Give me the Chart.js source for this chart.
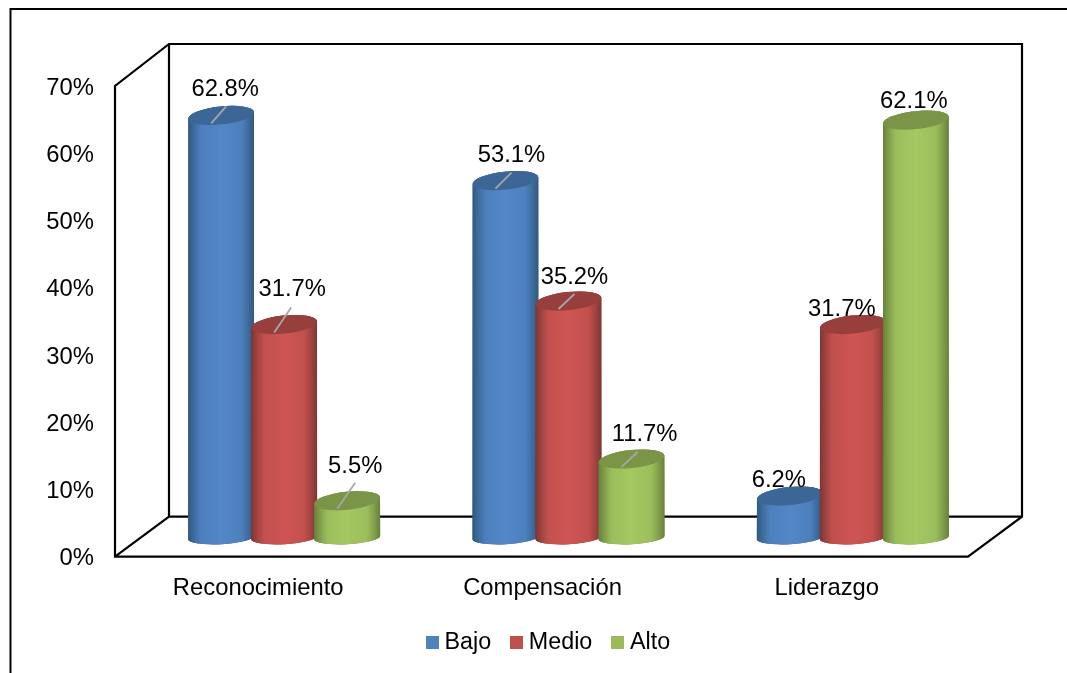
<!DOCTYPE html>
<html>
<head>
<meta charset="utf-8">
<title>Niveles por dimensión</title>
<script src="https://cdn.jsdelivr.net/npm/chart.js@4"></script>
<style>
  html, body { margin: 0; padding: 0; background: #fff; overflow: hidden; }
  canvas { display: block; }
</style>
</head>
<body>
<canvas id="grafico" width="1067" height="673"></canvas>
<script>
const categorias = ['Reconocimiento', 'Compensación', 'Liderazgo'];
const series = ['Bajo', 'Medio', 'Alto'];
const bajo = [62.8, 53.1, 6.2];
const medio = [31.7, 35.2, 31.7];
const alto = [5.5, 11.7, 62.1];
const colores = ['#4f81bd', '#c0504d', '#9bbb59'];

// degradado de cada cilindro: borde, centro, tapa
const tonos = [
  ['#30587f', '#5287c8', '#3c6696'],
  ['#7c3634', '#cf5553', '#973f3d'],
  ['#66803a', '#a5c862', '#7a9448']
];

// desplazamiento de cada etiqueta respecto a la tapa [serie][categoria]
const etiquetaPos = [
  [[4, -26], [6, -25], [-11, -16]],
  [[8, -35], [6, -24], [-11, -15]],
  [[8, -34], [13, -25], [-2, -19]]
];
// lineas guia (dx, dy); null = sin linea
const guias = [
  [[15, -17], [16, -16], null],
  [[17, -25], [16, -15], null],
  [[18, -26], [16, -15], null]
];

const fuente = '"Liberation Sans", Arial, sans-serif';
const tamFuente = 23.8;
const fondoX = 54, fondoY = 42;     // profundidad de la caja 3D
const barraX = 27, barraY = 19;     // los cilindros van a media profundidad
const radio = 33, radioY = 9, giro = -6 * Math.PI / 180;
const radioBase = 6.5, giroBase = -3 * Math.PI / 180;
const leyendaX = 67;                // la leyenda no va centrada en el area

function muestra(color) {
  const c = document.createElement('canvas');
  c.width = 13;
  c.height = 13;
  const g = c.getContext('2d');
  g.fillStyle = color;
  g.fillRect(0, 0, 13, 13);
  return c;
}

function cilindro(ctx, x, yTapa, yBase, tono) {
  const grad = ctx.createLinearGradient(x - radio, 0, x + radio, 0);
  grad.addColorStop(0, tono[0]);
  grad.addColorStop(0.2, tono[1] + 'd8');
  grad.addColorStop(0.5, tono[1]);
  grad.addColorStop(0.8, tono[1] + 'd8');
  grad.addColorStop(1, tono[0]);

  const cuerpo = new Path2D();
  cuerpo.ellipse(x, yBase, radio, radioBase, giroBase, 0, Math.PI);
  cuerpo.ellipse(x, yTapa, radio, radioY, giro, Math.PI, 2 * Math.PI);
  cuerpo.closePath();
  ctx.fillStyle = tono[0];
  ctx.fill(cuerpo);
  ctx.fillStyle = grad;
  ctx.fill(cuerpo);

  ctx.beginPath();
  ctx.ellipse(x, yTapa, radio, radioY, giro, 0, 2 * Math.PI);
  ctx.fillStyle = tono[2];
  ctx.fill();
}

const caja3d = {
  id: 'caja3d',
  afterLayout(chart) {
    chart.legend.left += leyendaX;
    chart.legend.right += leyendaX;
  },
  beforeDatasetsDraw(chart) {
    const { ctx, chartArea: a } = chart;
    ctx.save();

    // marco exterior
    ctx.strokeStyle = '#000';
    ctx.lineWidth = 2;
    ctx.beginPath();
    ctx.moveTo(10.5, 673);
    ctx.lineTo(10.5, 9);
    ctx.lineTo(1067, 9);
    ctx.stroke();

    const bx = a.left + fondoX, by = a.bottom - fondoY + 2;
    const tx = a.top - fondoY;
    ctx.lineWidth = 2.2;
    ctx.lineJoin = 'miter';
    ctx.beginPath();
    ctx.moveTo(a.left, a.bottom);
    ctx.lineTo(a.left, a.top);
    ctx.lineTo(bx, tx);
    ctx.lineTo(a.right + fondoX, tx);
    ctx.lineTo(a.right + fondoX, by);
    ctx.lineTo(a.right, a.bottom);
    ctx.closePath();
    ctx.moveTo(bx, tx);
    ctx.lineTo(bx, by);
    ctx.lineTo(a.right + fondoX, by);
    ctx.moveTo(bx, by);
    ctx.lineTo(a.left, a.bottom);
    ctx.stroke();
    ctx.restore();
  },
  beforeDatasetDraw() {
    return false; // las barras planas se sustituyen por cilindros
  },
  afterDatasetsDraw(chart) {
    const { ctx } = chart;
    ctx.save();
    categorias.forEach((_, c) => {
      series.forEach((_, s) => {
        const bar = chart.getDatasetMeta(s).data[c];
        cilindro(ctx, bar.x + barraX, bar.y - barraY, bar.base - barraY, tonos[s]);
      });
    });

    ctx.font = tamFuente + 'px ' + fuente;
    ctx.textAlign = 'center';
    ctx.textBaseline = 'middle';
    categorias.forEach((_, c) => {
      series.forEach((_, s) => {
        const bar = chart.getDatasetMeta(s).data[c];
        const x = bar.x + barraX, y = bar.y - barraY;
        const g = guias[s][c];
        if (g) {
          ctx.strokeStyle = '#a6a6a6';
          ctx.lineWidth = 1.8;
          ctx.beginPath();
          ctx.moveTo(x - 10, y + 8);
          ctx.lineTo(x - 10 + g[0], y + 8 + g[1]);
          ctx.stroke();
        }
        const valor = chart.data.datasets[s].data[c];
        const pos = etiquetaPos[s][c];
        ctx.fillStyle = '#000';
        ctx.fillText(valor.toFixed(1) + '%', x + pos[0], y + pos[1]);
      });
    });
    ctx.restore();
  }
};

new Chart(document.getElementById('grafico'), {
  type: 'bar',
  data: {
    labels: categorias,
    datasets: [
      { label: series[0], data: bajo, backgroundColor: colores[0] },
      { label: series[1], data: medio, backgroundColor: colores[1] },
      { label: series[2], data: alto, backgroundColor: colores[2] }
    ]
  },
  options: {
    responsive: false,
    animation: false,
    categoryPercentage: 0.665,
    barPercentage: 1,
    layout: { padding: { top: 86, right: 99, bottom: 9, left: 0 } },
    scales: {
      y: {
        min: 0,
        max: 70,
        afterFit(scale) { scale.width = 115; },
        grid: { display: false, drawTicks: false },
        border: { display: false },
        ticks: {
          stepSize: 10,
          padding: 21,
          labelOffset: 2,
          color: '#000',
          font: { family: fuente, size: tamFuente },
          callback: v => v + '%'
        }
      },
      x: {
        afterFit(scale) { scale.height = 49; },
        grid: { display: false, drawTicks: false },
        border: { display: false },
        ticks: {
          padding: 17,
          labelOffset: 1,
          color: '#000',
          maxRotation: 0,
          font: { family: fuente, size: tamFuente }
        }
      }
    },
    plugins: {
      tooltip: { enabled: false },
      legend: {
        position: 'bottom',
        labels: {
          usePointStyle: true,
          boxWidth: 1,
          boxHeight: 13,
          padding: 25,
          color: '#000',
          font: { family: fuente, size: 23.3 },
          generateLabels(chart) {
            return Chart.defaults.plugins.legend.labels.generateLabels(chart).map((item, i) => {
              item.pointStyle = muestra(colores[i]);
              return item;
            });
          }
        }
      }
    }
  },
  plugins: [caja3d]
});
</script>
</body>
</html>
